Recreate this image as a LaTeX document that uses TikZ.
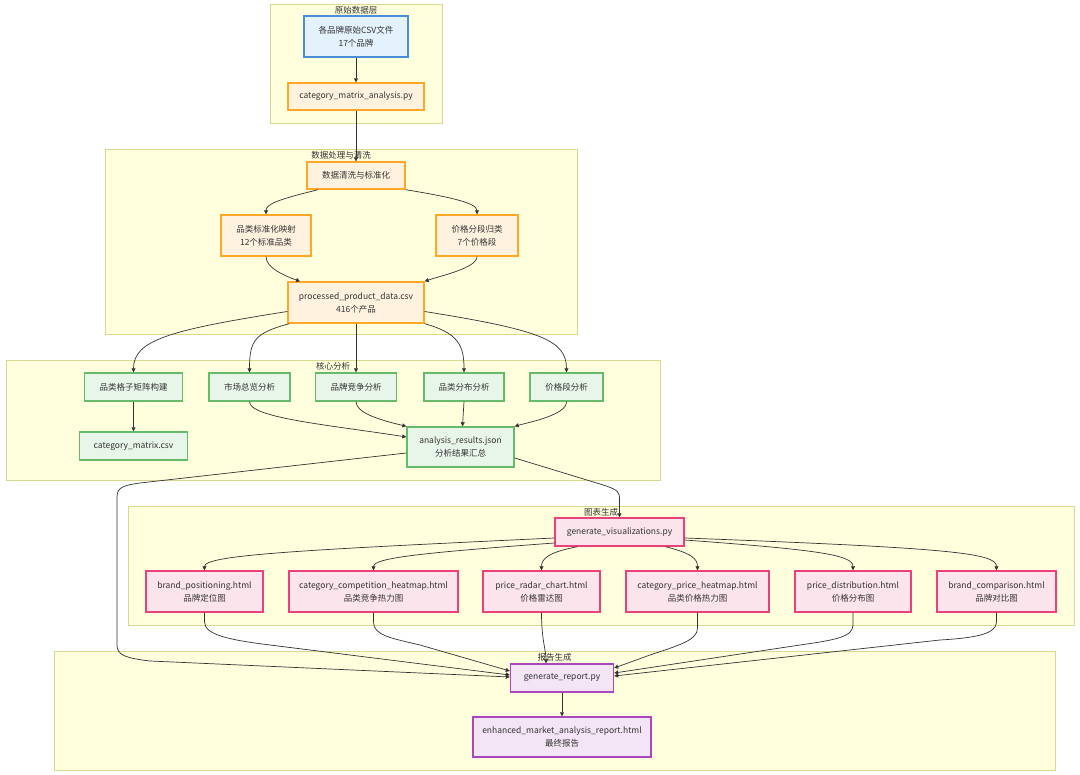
\documentclass[tikz,border=0pt]{standalone}
\usepackage{fontspec}
\setmainfont{Noto Sans CJK SC}
\usetikzlibrary{arrows.meta,calc}
\definecolor{clusterF}{HTML}{FFFFDE}
\definecolor{clusterS}{HTML}{D8D890}
\definecolor{blueF}{HTML}{E3F2FD}
\definecolor{blueS}{HTML}{4A90D9}
\definecolor{orangeF}{HTML}{FFF3E0}
\definecolor{orangeS}{HTML}{FFA726}
\definecolor{greenF}{HTML}{E8F5E9}
\definecolor{greenS}{HTML}{66BB6A}
\definecolor{pinkF}{HTML}{FCE4EC}
\definecolor{pinkS}{HTML}{EC407A}
\definecolor{purpleF}{HTML}{F3E5F5}
\definecolor{purpleS}{HTML}{AB47BC}
\definecolor{txt}{HTML}{333333}
\definecolor{edgeC}{HTML}{333333}
\begin{document}
\begin{tikzpicture}[x=1pt,y=-1pt,
  cluster/.style={draw=clusterS, fill=clusterF, line width=0.9pt, inner sep=0},
  ctitle/.style={anchor=north, inner sep=0, text=txt, font=\fontsize{8.5}{10}\selectfont},
  box/.style={line width=1.4pt, inner sep=0, align=center, text=txt, font=\fontsize{8.5}{13}\selectfont},
  bluebox/.style={box, fill=blueF, draw=blueS},
  orangebox/.style={box, fill=orangeF, draw=orangeS},
  greenbox/.style={box, fill=greenF, draw=greenS},
  pinkbox/.style={box, fill=pinkF, draw=pinkS},
  purplebox/.style={box, fill=purpleF, draw=purpleS},
  edge/.style={draw=edgeC, line width=0.7pt, -{Triangle[length=4pt,width=4pt]}}
]
\fill[white] (0,0) rectangle (1080,775);
\useasboundingbox (0,0) rectangle (1080,775);

% clusters
\node[cluster, minimum width=172, minimum height=119] (c1) at (356,63.5) {};
\node[ctitle] (t1) at ($(c1.north)+(0,3)$) {原始数据层};
\node[cluster, minimum width=472, minimum height=185] (c2) at (341,241.5) {};
\node[ctitle] (t2) at ($(c2.north)+(0,3)$) {数据处理与清洗};
\node[cluster, minimum width=654, minimum height=120] (c3) at (333,420) {};
\node[ctitle] (t3) at ($(c3.north)+(0,3)$) {核心分析};
\node[cluster, minimum width=946, minimum height=119] (c4) at (601,565.5) {};
\node[ctitle] (t4) at ($(c4.north)+(0,3)$) {图表生成};
\node[cluster, minimum width=1001, minimum height=119] (c5) at (554.5,710.5) {};
\node[ctitle] (t5) at ($(c5.north)+(0,3)$) {报告生成};

% nodes
\node[bluebox, minimum width=104, minimum height=41] (A) at (356,36.5) {各品牌原始CSV文件\\17个品牌};
\node[orangebox, minimum width=136, minimum height=27] (B) at (356,96.5) {category\_matrix\_analysis.py};
\node[orangebox, minimum width=98, minimum height=27] (C) at (356,175.5) {数据清洗与标准化};
\node[orangebox, minimum width=90, minimum height=41] (D) at (266,235.5) {品类标准化映射\\12个标准品类};
\node[orangebox, minimum width=82, minimum height=41] (E) at (477,235.5) {价格分段归类\\7个价格段};
\node[orangebox, minimum width=136, minimum height=41] (F) at (356,302.5) {processed\_product\_data.csv\\416个产品};

\node[greenbox, minimum width=98, minimum height=28] (G1) at (133.5,387) {品类格子矩阵构建};
\node[greenbox, minimum width=81, minimum height=28] (G2) at (249.5,387) {市场总览分析};
\node[greenbox, minimum width=81, minimum height=28] (G3) at (356,387) {品牌竞争分析};
\node[greenbox, minimum width=80, minimum height=28] (G4) at (464,387) {品类分布分析};
\node[greenbox, minimum width=73, minimum height=28] (G5) at (566.5,387) {价格段分析};
\node[greenbox, minimum width=108, minimum height=28] (H) at (133.5,446) {category\_matrix.csv};
\node[greenbox, minimum width=107, minimum height=40] (I) at (460.5,447) {analysis\_results.json\\分析结果汇总};

\node[pinkbox, minimum width=129, minimum height=28] (J) at (619.5,532) {generate\_visualizations.py};
\node[pinkbox, minimum width=117, minimum height=41] (K1) at (204.5,591.5) {brand\_positioning.html\\品牌定位图};
\node[pinkbox, minimum width=169, minimum height=41] (K2) at (373.5,591.5) {category\_competition\_heatmap.html\\品类竞争热力图};
\node[pinkbox, minimum width=117, minimum height=41] (K3) at (541.5,591.5) {price\_radar\_chart.html\\价格雷达图};
\node[pinkbox, minimum width=143, minimum height=41] (K4) at (697.5,591.5) {category\_price\_heatmap.html\\品类价格热力图};
\node[pinkbox, minimum width=116, minimum height=41] (K5) at (853,591.5) {price\_distribution.html\\价格分布图};
\node[pinkbox, minimum width=119, minimum height=41] (K6) at (996.5,591.5) {brand\_comparison.html\\品牌对比图};

\node[purplebox, minimum width=103, minimum height=28] (L) at (562,678) {generate\_report.py};
\node[purplebox, minimum width=178, minimum height=40] (M) at (562,737) {enhanced\_market\_analysis\_report.html\\最终报告};

% edges
\draw[edge] (A) -- (B);
\draw[edge] (B) -- (C);
\draw[edge] ($(C.south)+(-38,0)$) .. controls (285,198) and (266,203) .. (D.north);
\draw[edge] (C.south east) .. controls (450,197) and (477,203) .. (E.north);
\draw[edge] (D.south) .. controls (266,268) and (285,276) .. ($(F.north)+(-56,0)$);
\draw[edge] (E.south) .. controls (477,268) and (440,276) .. (F.north east);

\draw[edge] ($(F.west)+(0,9)$) .. controls (170,330) and (133.5,340) .. (G1.north);
\draw[edge] ($(F.south west)+(2,0)$) .. controls (255,333) and (249.5,340) .. (G2.north);
\draw[edge] (F.south) -- (G3.north);
\draw[edge] (F.south east) .. controls (458,333) and (464,345) .. (G4.north);
\draw[edge] ($(F.east)+(0,9)$) .. controls (540,330) and (566.5,340) .. (G5.north);

\draw[edge] (G1) -- (H);
\draw[edge] (G2.south) .. controls (249.5,418) and (330,425) .. ($(I.west)+(0,-10)$);
\draw[edge] (G3.south) .. controls (356,413) and (380,420) .. (I.north west);
\draw[edge] (G4.south) -- ($(I.north)+(2,0)$);
\draw[edge] (G5.south) .. controls (566.5,415) and (530,422) .. (I.north east);

\draw[edge] ($(I.west)+(0,6)$) -- (140,483) .. controls (117,486) and (117,490) .. (117,500) -- (117,645) .. controls (117,655) and (125,658) .. (150,661) -- ($(L.west)+(0,-1)$);
\draw[edge] ($(I.east)+(0,11)$) -- (600,484) .. controls (619.5,490) and (619.5,492) .. (619.5,500) -- (J.north);

\draw[edge] ($(J.west)+(0,6)$) .. controls (300,550) and (204.5,555) .. (K1.north);
\draw[edge] ($(J.west)+(0,11)$) .. controls (420,553) and (373.5,558) .. (K2.north);
\draw[edge] ($(J.south west)+(23,0)$) .. controls (550,552) and (541.5,558) .. (K3.north);
\draw[edge] ($(J.south east)+(-19,0)$) .. controls (690,553) and (697.5,558) .. (K4.north);
\draw[edge] ($(J.east)+(0,8)$) .. controls (820,550) and (853,555) .. (K5.north);
\draw[edge] ($(J.east)+(0,6)$) .. controls (950,548) and (996.5,553) .. (K6.north);

\draw[edge] (K1.south) -- (204.5,622) .. controls (204.5,635) and (230,640) .. (270,645) -- ($(L.west)+(0,-3)$);
\draw[edge] (K2.south) -- (373.5,622) .. controls (373.5,635) and (390,638) .. (420,645) -- ($(L.west)+(0,-7)$);
\draw[edge] (K3.south) .. controls (541.5,640) and (546,650) .. ($(L.north)+(-16,0)$);
\draw[edge] (K4.south) -- (697.5,628) .. controls (697.5,640) and (680,645) .. (650,655) -- ($(L.east)+(0,-10)$);
\draw[edge] (K5.south) -- (853,625) .. controls (853,637) and (835,640) .. (800,645) -- ($(L.east)+(0,-5)$);
\draw[edge] (K6.south) -- (996.5,622) .. controls (996.5,634) and (975,638) .. (940,640) -- ($(L.east)+(0,-2)$);

\draw[edge] (L) -- (M);
\end{tikzpicture}
\end{document}
